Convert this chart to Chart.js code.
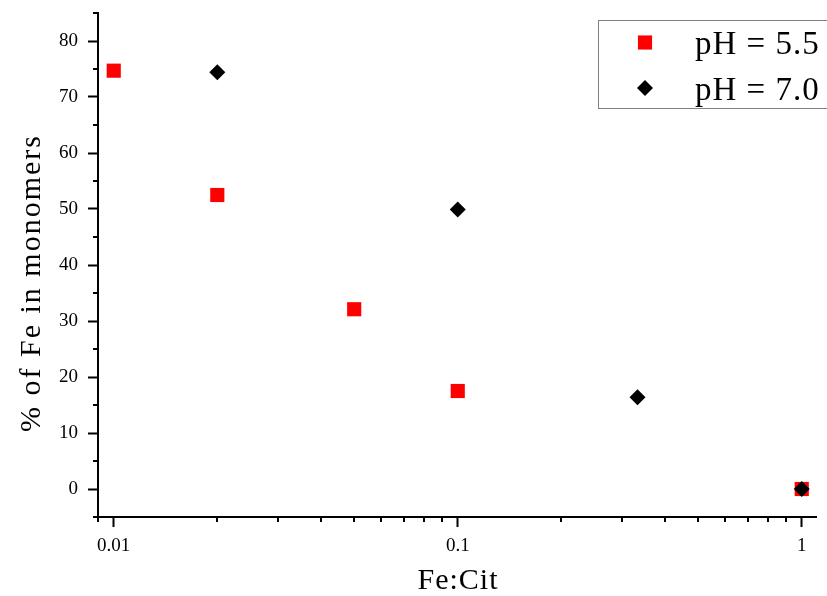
<!DOCTYPE html>
<html>
<head>
<meta charset="utf-8">
<script src="https://cdn.jsdelivr.net/npm/chart.js@4.4.1/dist/chart.umd.min.js"></script>
<style>
  html, body { margin: 0; padding: 0; background: #fff; }
  canvas { display: block; }
</style>
</head>
<body>
<canvas id="chart" width="827" height="596"></canvas>
<script>
// Fe:Cit ratio (x) vs % of Fe in monomers (y)
const ratioPH55 = [0.01, 0.02, 0.05, 0.1, 1];
const monoPH55 = [74.7, 52.5, 32.1, 17.5, 0];
const ratioPH70 = [0.02, 0.1, 0.333, 1];
const monoPH70 = [74.4, 49.9, 16.4, 0];
const seriesLabels = ["pH = 5.5", "pH = 7.0"];

// ticks
const xMajorTicks = [0.01, 0.1, 1];
const xTickLabels = ["0.01", "0.1", "1"];
const xMinorTicks = [0.009, 0.02, 0.03, 0.04, 0.05, 0.06, 0.07, 0.08, 0.09,
  0.2, 0.3, 0.4, 0.5, 0.6, 0.7, 0.8, 0.9];
const yMajorTicks = [0, 10, 20, 30, 40, 50, 60, 70, 80];
const yMinorTicks = [-5, 5, 15, 25, 35, 45, 55, 65, 75, 85];

const xTitle = "Fe:Cit";
const yTitle = "% of Fe in monomers";

const serif = "'Liberation Serif', 'Times New Roman', serif";

function toPoints(xs, ys) {
  return xs.map((x, i) => ({ x: x, y: ys[i] }));
}

// minor ticks, axis titles and the boxed legend
const extras = {
  id: "extras",
  afterDraw(chart) {
    const ctx = chart.ctx;
    const sx = chart.scales.x;
    const sy = chart.scales.y;
    ctx.save();
    ctx.strokeStyle = "#000";
    ctx.lineWidth = 2;
    xMinorTicks.forEach(v => {
      const px = Math.round(sx.getPixelForValue(v));
      ctx.beginPath();
      ctx.moveTo(px, sx.top);
      ctx.lineTo(px, sx.top + 5);
      ctx.stroke();
    });
    yMinorTicks.forEach(v => {
      const py = Math.round(sy.getPixelForValue(v));
      ctx.beginPath();
      ctx.moveTo(sy.right, py);
      ctx.lineTo(sy.right - 5, py);
      ctx.stroke();
    });

    // axis titles
    ctx.fillStyle = "#000";
    ctx.font = "30px " + serif;
    ctx.textAlign = "center";
    ctx.textBaseline = "alphabetic";
    ctx.letterSpacing = "1px";
    ctx.fillText(xTitle, (chart.chartArea.left + chart.chartArea.right) / 2 + 1, 589);
    ctx.save();
    ctx.translate(40, 283);
    ctx.rotate(-Math.PI / 2);
    ctx.letterSpacing = "2px";
    ctx.fillText(yTitle, 0, 0);
    ctx.restore();

    // legend
    ctx.strokeStyle = "#808080";
    ctx.lineWidth = 1;
    ctx.strokeRect(598.5, 20.5, 260, 88);
    const rows = [42.5, 88];
    const baselines = [54, 100];
    chart.data.datasets.forEach((ds, i) => {
      ctx.fillStyle = ds.backgroundColor;
      Chart.helpers.drawPoint(ctx, {
        pointStyle: ds.pointStyle,
        radius: ds.pointRadius,
        rotation: 0,
        borderWidth: 0
      }, 645, rows[i]);
      ctx.fillStyle = "#000";
      ctx.font = "33px " + serif;
      ctx.textAlign = "left";
      ctx.letterSpacing = "1px";
      ctx.fillText(ds.label, 695, baselines[i]);
    });
    ctx.restore();
  }
};

new Chart(document.getElementById("chart"), {
  type: "scatter",
  data: {
    datasets: [
      {
        label: seriesLabels[0],
        data: toPoints(ratioPH55, monoPH55),
        backgroundColor: "#ff0000",
        borderWidth: 0,
        pointStyle: "rect",
        pointRadius: 10,
        order: 1
      },
      {
        label: seriesLabels[1],
        data: toPoints(ratioPH70, monoPH70),
        backgroundColor: "#000000",
        borderWidth: 0,
        pointStyle: "rectRot",
        pointRadius: 8,
        order: 0
      }
    ]
  },
  options: {
    responsive: false,
    animation: false,
    layout: { padding: { top: 13, right: 11, left: 0, bottom: 0 } },
    plugins: {
      legend: { display: false },
      tooltip: { enabled: false }
    },
    scales: {
      x: {
        type: "logarithmic",
        min: 0.009,
        max: 1.1,
        afterBuildTicks: s => { s.ticks = xMajorTicks.map(v => ({ value: v })); },
        afterFit: s => { s.height = 79; s.paddingLeft = 0; s.paddingRight = 0; },
        border: { display: true, color: "#000", width: 2 },
        grid: { drawOnChartArea: false, drawTicks: true, tickLength: 10, tickWidth: 2, tickColor: "#000" },
        ticks: {
          color: "#000",
          font: { family: serif, size: 19 },
          padding: 8,
          maxRotation: 0,
          autoSkip: false,
          callback: v => {
            const i = xMajorTicks.indexOf(v);
            return i >= 0 ? xTickLabels[i] : "";
          }
        }
      },
      y: {
        min: -5,
        max: 85,
        afterBuildTicks: s => { s.ticks = yMajorTicks.map(v => ({ value: v })); },
        afterFit: s => { s.width = 98; s.paddingTop = 0; s.paddingBottom = 0; },
        border: { display: true, color: "#000", width: 2 },
        grid: { drawOnChartArea: false, drawTicks: true, tickLength: 10, tickWidth: 2, tickColor: "#000" },
        ticks: {
          color: "#000",
          font: { family: serif, size: 19 },
          padding: 10
        }
      }
    }
  },
  plugins: [extras]
});
</script>
</body>
</html>
